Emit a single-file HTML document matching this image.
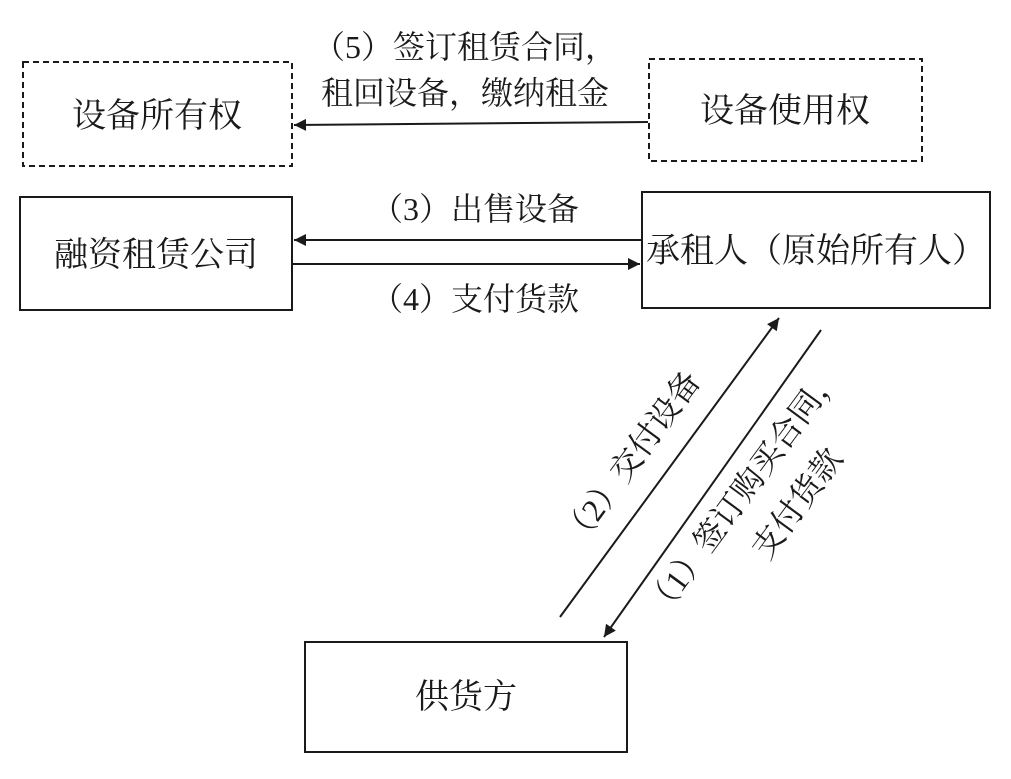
<!DOCTYPE html>
<html><head><meta charset="utf-8"><style>
html,body{margin:0;padding:0;background:#fff;}
svg{display:block;}
text{font-family:"Liberation Serif","Noto Serif CJK SC","Noto Sans CJK SC",serif;fill:#1a1a1a;}
</style></head><body>
<svg width="1011" height="779" viewBox="0 0 1011 779" xmlns="http://www.w3.org/2000/svg">
<defs>
<marker id="a" viewBox="0 0 10 10" refX="10" refY="5" markerWidth="14" markerHeight="12" markerUnits="userSpaceOnUse" orient="auto"><path d="M0,0L10,5L0,10z" fill="#1a1a1a"/></marker>
</defs>
<g stroke="#1a1a1a" fill="none" stroke-width="2">
<rect x="23" y="62" width="269" height="104" stroke-dasharray="6,4"/>
<rect x="649" y="59" width="273" height="102" stroke-dasharray="6,4"/>
<rect x="20" y="197" width="272" height="113"/>
<rect x="642" y="192" width="348" height="116"/>
<rect x="305" y="642" width="322" height="110"/>
<line x1="648" y1="122" x2="294" y2="125" marker-end="url(#a)"/>
<line x1="642" y1="240" x2="294" y2="240" marker-end="url(#a)"/>
<line x1="292" y1="264" x2="640" y2="264" marker-end="url(#a)"/>
<line x1="560" y1="617" x2="779" y2="318" marker-end="url(#a)"/>
<line x1="821" y1="330" x2="604" y2="637" marker-end="url(#a)"/>
</g>
<g font-size="34" text-anchor="middle">
<text x="157" y="127">设备所有权</text>
<text x="785" y="122">设备使用权</text>
<text x="156" y="266">融资租赁公司</text>
<text x="816" y="262">承租人（原始所有人）</text>
<text x="466" y="708">供货方</text>
</g>
<g font-size="32" text-anchor="middle">
<text x="465" y="58">（5）签订租赁合同，</text>
<text x="465" y="104">租回设备，缴纳租金</text>
<text x="475" y="220">（3）出售设备</text>
<text x="475" y="310">（4）支付货款</text>
<text transform="translate(640,465) rotate(-53.6)">（2）交付设备</text>
<text transform="translate(752,497) rotate(-53.6)">（1）签订购买合同，</text>
<text transform="translate(806,510) rotate(-53.6)">支付货款</text>
</g>
</svg>
</body></html>
